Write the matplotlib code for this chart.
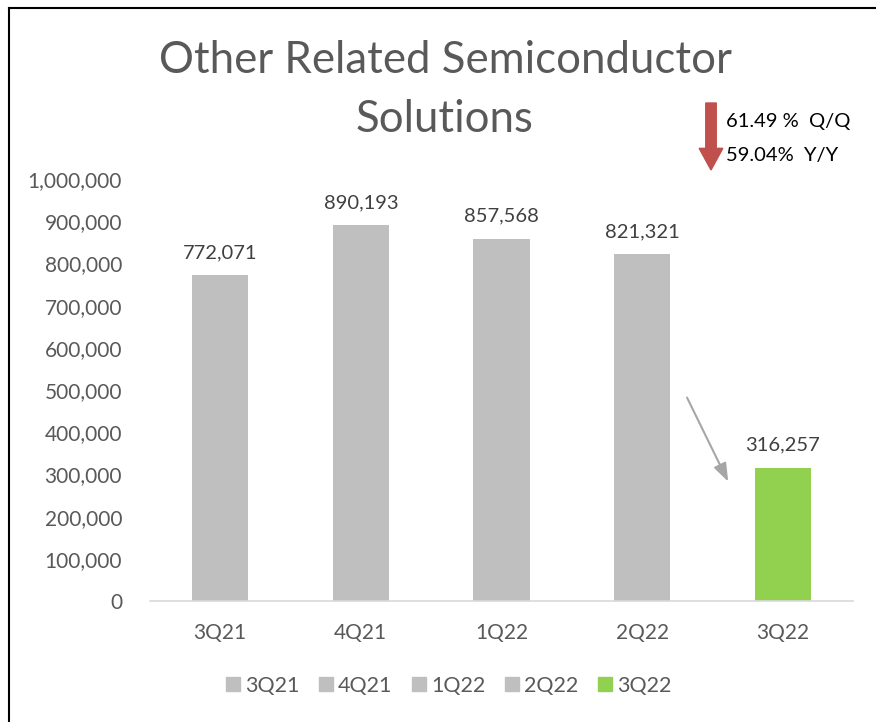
import matplotlib
matplotlib.use("Agg")
import matplotlib.pyplot as plt
from matplotlib.patches import FancyArrow
from matplotlib.lines import Line2D

quarters = ["3Q21", "4Q21", "1Q22", "2Q22", "3Q22"]
revenue = [772071, 890193, 857568, 821321, 316257]
bar_colors = ["#BFBFBF", "#BFBFBF", "#BFBFBF", "#BFBFBF", "#92D050"]
yticks = [0, 100000, 200000, 300000, 400000, 500000, 600000, 700000, 800000, 900000, 1000000]
qq_text = "61.49 %  Q/Q"
yy_text = "59.04%  Y/Y"

plt.rcParams["font.family"] = ["Lato", "DejaVu Sans"]

fig = plt.figure(figsize=(8.76, 7.22), dpi=100)
ax = fig.add_axes([0.171, 0.1676, 0.803, 0.5844])

x = list(range(len(quarters)))
bars = ax.bar(x, revenue, width=0.4, color=bar_colors, label=quarters)
ax.set_xlim(-0.5, 4.5)
ax.set_ylim(0, 1000000)
ax.set_yticks(yticks)
ax.set_yticklabels([f"{v:,}" for v in yticks])
ax.set_xticks(x)
ax.set_xticklabels(quarters)
ax.tick_params(axis="both", length=0, labelsize=15, colors="#595959")
ax.tick_params(axis="x", pad=16)
ax.tick_params(axis="y", pad=20)
for s in ["top", "right", "left"]:
    ax.spines[s].set_visible(False)
ax.spines["bottom"].set_color("#D9D9D9")
ax.spines["bottom"].set_linewidth(1.2)

for b, v in zip(bars, revenue):
    ax.text(b.get_x() + b.get_width() / 2, v + 34000, f"{v:,}",
            ha="center", va="bottom", fontsize=14.5, color="#404040")

# title
fig.text(0.508, 1 - 90 / 722, "Other Related Semiconductor\nSolutions", ha="center", va="center",
         fontsize=31.5, color="#595959", linespacing=1.55)

# red down arrow + change text
fig.patches.append(FancyArrow(711 / 876, 1 - 103 / 722, 0, -67 / 722, width=0.012,
                              head_width=0.027, head_length=0.030, length_includes_head=True,
                              color="#C0504D", transform=fig.transFigure))
fig.text(726 / 876, 1 - 122 / 722, qq_text, fontsize=14.5, color="black", va="center")
fig.text(726 / 876, 1 - 155 / 722, yy_text, fontsize=14.5, color="black", va="center")

# gray pointer arrow
ax.annotate("", xy=(3.62, 0.277e6), xytext=(3.31, 0.488e6),
            arrowprops=dict(arrowstyle="-|>,head_length=1.1,head_width=0.4", color="#A6A6A6", lw=1.5))

# legend
handles = [Line2D([0], [0], marker="s", linestyle="", markersize=10,
                  markerfacecolor=c, markeredgecolor=c) for c in bar_colors]
fig.legend(handles, quarters, loc="center", bbox_to_anchor=(0.51, 1 - 686 / 722), ncol=5,
           frameon=False, fontsize=15.5, labelcolor="#595959", handletextpad=0.05,
           columnspacing=0.75, handlelength=1.0)

# outer border (left and top)
fig.add_artist(Line2D([9 / 876, 9 / 876], [0, 1 - 8 / 722], transform=fig.transFigure, color="black", lw=1.5))
fig.add_artist(Line2D([9 / 876, 1], [1 - 8 / 722, 1 - 8 / 722], transform=fig.transFigure, color="black", lw=1.5))

fig.savefig("out.png", dpi=100)
